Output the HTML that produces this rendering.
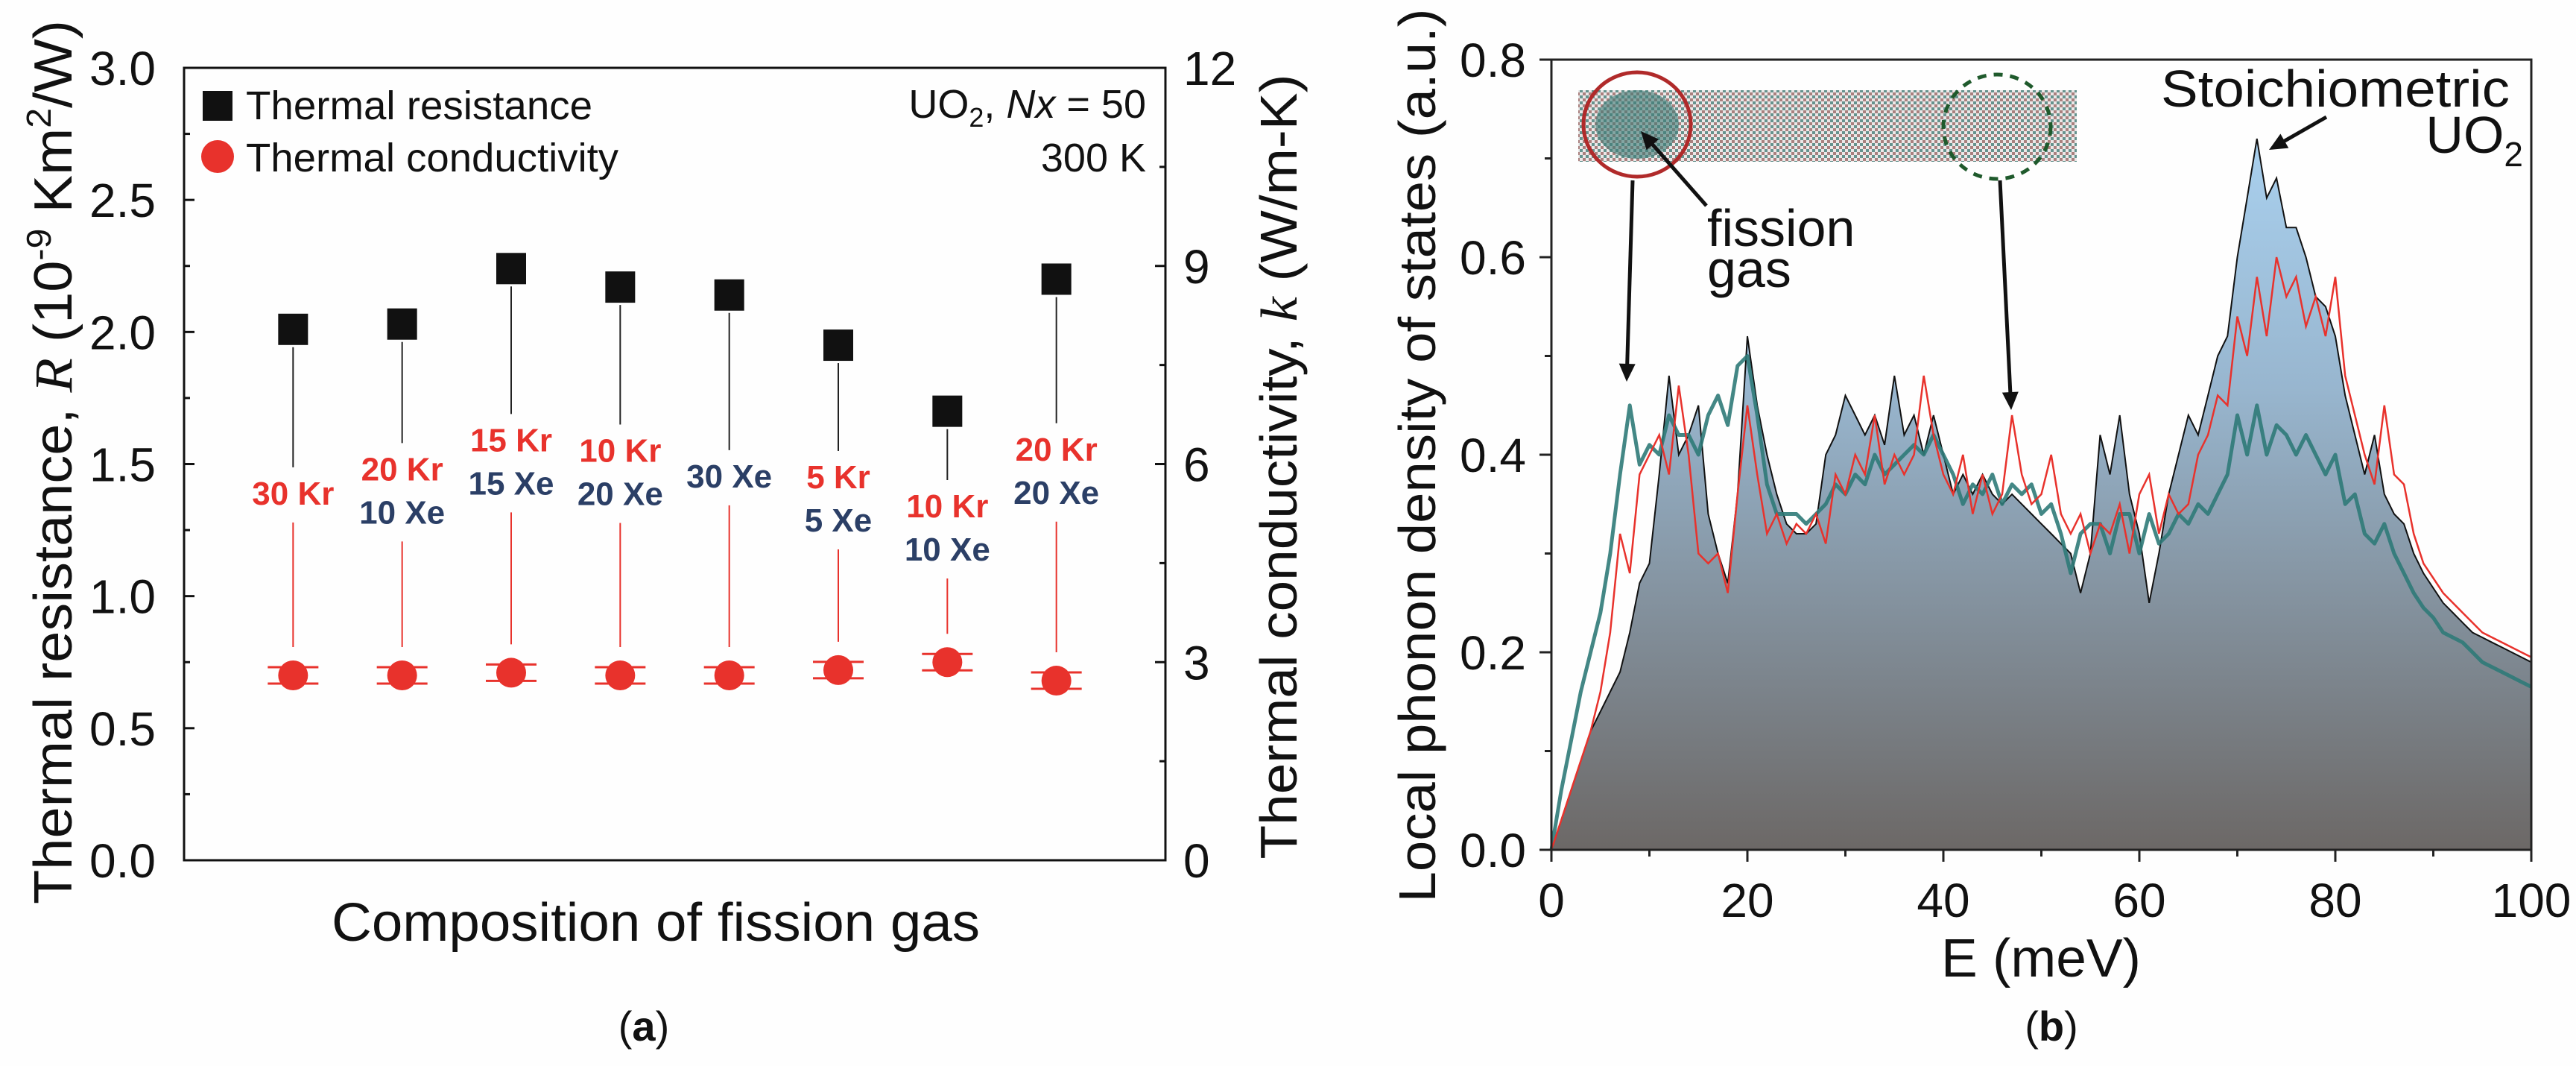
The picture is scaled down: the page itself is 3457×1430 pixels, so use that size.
<!DOCTYPE html>
<html><head><meta charset="utf-8">
<style>
html,body{margin:0;padding:0;background:#fff;}
svg{display:block;}
text{font-family:"Liberation Sans",Arial,sans-serif;}
</style></head>
<body>
<svg id="fig" width="3457" height="1430" viewBox="0 0 3457 1430" xmlns="http://www.w3.org/2000/svg">
<defs>
<linearGradient id="dosFill" gradientUnits="userSpaceOnUse" x1="0" y1="186" x2="0" y2="1140">
<stop offset="0" stop-color="#a9d0ee"/>
<stop offset="0.35" stop-color="#98b6cf"/>
<stop offset="1" stop-color="#6c6866"/>
</linearGradient>
<pattern id="atoms" width="8" height="8" patternUnits="userSpaceOnUse">
<rect width="8" height="8" fill="#e9e4e4"/>
<rect x="0" y="0" width="4" height="4" fill="#4a7f79"/>
<rect x="4" y="4" width="4" height="4" fill="#9a6a68"/>
</pattern>
</defs>
<rect width="3457" height="1430" fill="#fefefe"/>
<g id="panelA"></g>
<g id="panelB"></g>
</svg>
<script>
// ---------- Panel (a) data ----------
const compositions = ['c1','c2','c3','c4','c5','c6','c7','c8'];
const resistance = [2.01, 2.03, 2.24, 2.17, 2.14, 1.95, 1.70, 2.20];
const conductivity = [2.80, 2.80, 2.84, 2.80, 2.80, 2.88, 3.00, 2.72];
const krLabels = ['30 Kr','20 Kr','15 Kr','10 Kr','','5 Kr','10 Kr','20 Kr'];
const xeLabels = ['','10 Xe','15 Xe','20 Xe','30 Xe','5 Xe','10 Xe','20 Xe'];
const leftTicks = ['0.0','0.5','1.0','1.5','2.0','2.5','3.0'];
const rightTicks = ['0','3','6','9','12'];

// ---------- Panel (b) data ----------
const energy = [0,1,2,3,4,5,6,7,8,9,10,11,12,13,14,15,16,17,18,19,20,21,22,23,24,25,26,27,28,29,30,31,32,33,34,35,36,37,38,39,40,41,42,43,44,45,46,47,48,49,50,51,52,53,54,55,56,57,58,59,60,61,62,63,64,65,66,67,68,69,70,71,72,73,74,75,76,77,78,79,80,81,82,83,84,85,86,87,88,89,90,91,92,93,94,95,96,97,98,99,100];
const dosStoich = [0,0.03,0.06,0.09,0.12,0.14,0.16,0.18,0.22,0.27,0.29,0.38,0.48,0.40,0.42,0.45,0.34,0.30,0.27,0.36,0.52,0.45,0.40,0.36,0.33,0.32,0.32,0.33,0.40,0.42,0.46,0.44,0.42,0.44,0.41,0.48,0.42,0.44,0.40,0.44,0.40,0.36,0.38,0.36,0.38,0.36,0.35,0.36,0.35,0.34,0.33,0.32,0.31,0.30,0.26,0.30,0.42,0.38,0.44,0.36,0.32,0.25,0.30,0.36,0.40,0.44,0.42,0.46,0.50,0.52,0.60,0.66,0.72,0.66,0.68,0.63,0.63,0.60,0.56,0.55,0.52,0.46,0.42,0.38,0.42,0.36,0.34,0.33,0.30,0.28,0.265,0.25,0.24,0.23,0.22,0.215,0.21,0.205,0.20,0.195,0.19];
const dosRed = [0,0.03,0.06,0.09,0.12,0.16,0.22,0.32,0.28,0.38,0.40,0.42,0.38,0.47,0.40,0.30,0.29,0.30,0.26,0.36,0.45,0.38,0.32,0.34,0.31,0.33,0.32,0.34,0.31,0.38,0.36,0.40,0.38,0.44,0.37,0.40,0.38,0.40,0.48,0.42,0.38,0.36,0.40,0.34,0.38,0.34,0.36,0.44,0.38,0.35,0.36,0.40,0.34,0.32,0.34,0.30,0.33,0.32,0.35,0.30,0.36,0.38,0.32,0.36,0.34,0.35,0.40,0.42,0.46,0.45,0.54,0.50,0.58,0.52,0.60,0.56,0.58,0.53,0.56,0.52,0.58,0.48,0.44,0.40,0.37,0.45,0.38,0.37,0.32,0.29,0.275,0.26,0.25,0.24,0.23,0.22,0.215,0.21,0.205,0.20,0.195];
const dosTeal = [0,0.06,0.11,0.16,0.20,0.24,0.30,0.38,0.45,0.39,0.41,0.40,0.44,0.42,0.42,0.40,0.44,0.46,0.43,0.49,0.50,0.44,0.37,0.34,0.34,0.34,0.33,0.34,0.35,0.37,0.36,0.38,0.37,0.40,0.38,0.39,0.40,0.41,0.40,0.42,0.40,0.38,0.35,0.37,0.36,0.38,0.35,0.37,0.36,0.37,0.34,0.35,0.32,0.28,0.32,0.33,0.33,0.30,0.34,0.34,0.30,0.34,0.31,0.32,0.34,0.33,0.35,0.34,0.36,0.38,0.44,0.40,0.45,0.40,0.43,0.42,0.40,0.42,0.40,0.38,0.40,0.35,0.36,0.32,0.31,0.33,0.30,0.28,0.26,0.245,0.235,0.22,0.215,0.21,0.20,0.19,0.185,0.18,0.175,0.17,0.165];
const xTicksB = ['0','20','40','60','80','100'];
const yTicksB = ['0.0','0.2','0.4','0.6','0.8'];

const NS = 'http://www.w3.org/2000/svg';
function mk(parent, tag, attrs, txt){
  const e = document.createElementNS(NS, tag);
  for (const k in attrs) e.setAttribute(k, attrs[k]);
  if (txt !== undefined) e.textContent = txt;
  parent.appendChild(e);
  return e;
}

// ================= Panel A =================
const A = document.getElementById('panelA');
const AL = 247, AR = 1564, AT = 91, AB = 1154;
const xA = i => AL + (i + 1) * (AR - AL) / 9;
const yR = v => AB - v / 3 * (AB - AT);
const yK = v => AB - v / 12 * (AB - AT);

let e;
e = mk(A, 'rect', {x: AL, y: AT, width: AR - AL, height: AB - AT, fill: 'none', stroke: '#111', 'stroke-width': 3});



leftTicks.forEach((t, i) => {
  const v = parseFloat(t), y = yR(v);
  let tk = mk(A, 'line', {x1: AL, x2: AL + 14, y1: y, y2: y, stroke: '#111', 'stroke-width': 3});
  
  
  let lb = mk(A, 'text', {x: AL - 38, y: y + 23, 'font-size': 64, 'text-anchor': 'end', fill: '#111'}, t);
  
  
  if (i < leftTicks.length - 1) {
    const ym = yR(v + 0.25);
    let mt = mk(A, 'line', {x1: AL, x2: AL + 8, y1: ym, y2: ym, stroke: '#111', 'stroke-width': 3});
    
    
  }
});
rightTicks.forEach((t, i) => {
  const v = parseFloat(t), y = yK(v);
  let tk = mk(A, 'line', {x1: AR - 14, x2: AR, y1: y, y2: y, stroke: '#111', 'stroke-width': 3});
  
  
  let lb = mk(A, 'text', {x: AR + 24, y: y + 23, 'font-size': 64, fill: '#111'}, t);
  
  
  if (i < rightTicks.length - 1) {
    const ym = yK(v + 1.5);
    let mt = mk(A, 'line', {x1: AR - 8, x2: AR, y1: ym, y2: ym, stroke: '#111', 'stroke-width': 3});
    
    
  }
});

compositions.forEach((c, i) => {
  const x = xA(i), sy = yR(resistance[i]), cy = yK(conductivity[i]);
  const lines = [];
  if (krLabels[i]) lines.push({t: krLabels[i], c: '#e8322c', n: 'kr-label'});
  if (xeLabels[i]) lines.push({t: xeLabels[i], c: '#2b3f66', n: 'xe-label'});
  const mid = (sy + cy) / 2 - 12;
  const lh = 58;
  const top = mid - lines.length * lh / 2;
  const bot = mid + lines.length * lh / 2;
  let bl = mk(A, 'line', {x1: x, x2: x, y1: sy + 24, y2: top - 6, stroke: '#222', 'stroke-width': 2});
  
  
  let rl = mk(A, 'line', {x1: x, x2: x, y1: bot + 10, y2: cy - 38, stroke: '#e8322c', 'stroke-width': 2});
  
  
  lines.forEach((L, j) => {
    let t = mk(A, 'text', {x: x, y: top + j * lh + 44, 'font-size': 44, 'font-weight': 'bold', 'text-anchor': 'middle', fill: L.c}, L.t);
    
    
  });
  let sq = mk(A, 'rect', {x: x - 20, y: sy - 21, width: 40, height: 42, fill: '#111'});
  
  
  [-11, 11].forEach(d => {
    let cap = mk(A, 'line', {x1: x - 34, x2: x + 34, y1: cy + d, y2: cy + d, stroke: '#e8322c', 'stroke-width': 3});
    
    
  });
  let ci = mk(A, 'circle', {cx: x, cy: cy, r: 20, fill: '#e8322c'});
  
  
});
</script>
<script>
// static annotations panel A
(function(){
const A = document.getElementById('panelA');
function mk(parent, tag, attrs, txt){
  const e = document.createElementNS('http://www.w3.org/2000/svg', tag);
  for (const k in attrs) e.setAttribute(k, attrs[k]);
  if (txt !== undefined) e.textContent = txt;
  parent.appendChild(e);
  return e;
}
let e;
e = mk(A, 'rect', {x: 272, y: 122, width: 40, height: 40, fill: '#111'});


e = mk(A, 'text', {x: 330, y: 160, 'font-size': 54, fill: '#111', textLength: 465, lengthAdjust: 'spacingAndGlyphs'}, 'Thermal resistance');


e = mk(A, 'circle', {cx: 292, cy: 210, r: 22, fill: '#e8322c'});


e = mk(A, 'text', {x: 330, y: 230, 'font-size': 54, fill: '#111', textLength: 500, lengthAdjust: 'spacingAndGlyphs'}, 'Thermal conductivity');


e = mk(A, 'text', {x: 1538, y: 158, 'font-size': 54, fill: '#111', 'text-anchor': 'end'});
e.innerHTML = 'UO<tspan font-size="36" dy="12">2</tspan><tspan dy="-12">, </tspan><tspan font-style="italic">Nx</tspan> = 50';


e = mk(A, 'text', {x: 1538, y: 230, 'font-size': 54, fill: '#111', 'text-anchor': 'end'}, '300 K');


e = mk(A, 'text', {x: 0, y: 0, 'font-size': 72, fill: '#111', 'text-anchor': 'middle', transform: 'translate(96,620) rotate(-90)', textLength: 1186, lengthAdjust: 'spacingAndGlyphs'});
e.innerHTML = 'Thermal resistance, <tspan font-family="Liberation Serif" font-style="italic">R</tspan> (10<tspan font-size="46" dy="-28">-9</tspan><tspan dy="28"> Km</tspan><tspan font-size="46" dy="-28">2</tspan><tspan dy="28">/W)</tspan>';


e = mk(A, 'text', {x: 0, y: 0, 'font-size': 70, fill: '#111', 'text-anchor': 'middle', transform: 'translate(1740,626) rotate(-90)', textLength: 1053, lengthAdjust: 'spacingAndGlyphs'});
e.innerHTML = 'Thermal conductivity, <tspan font-family="Liberation Serif" font-style="italic">k</tspan> (W/m-K)';


e = mk(A, 'text', {x: 880, y: 1262, 'font-size': 72, fill: '#111', 'text-anchor': 'middle', textLength: 870, lengthAdjust: 'spacingAndGlyphs'}, 'Composition of fission gas');


e = mk(A, 'text', {x: 864, y: 1396, 'font-size': 56, fill: '#111', 'text-anchor': 'middle', 'font-family': 'Liberation Serif'});
e.innerHTML = '(<tspan font-weight="bold">a</tspan>)';


})();
</script>
<script>
// ================= Panel B =================
(function(){
const B = document.getElementById('panelB');
function mk(parent, tag, attrs, txt){
  const e = document.createElementNS('http://www.w3.org/2000/svg', tag);
  for (const k in attrs) e.setAttribute(k, attrs[k]);
  if (txt !== undefined) e.textContent = txt;
  parent.appendChild(e);
  return e;
}
const BL = 2082, BR = 3397, BT = 80, BB = 1140;
const xE = v => BL + v / 100 * (BR - BL);
const yD = v => BB - v / 0.8 * (BB - BT);
const pts = arr => energy.map((x, i) => xE(x).toFixed(1) + ',' + yD(arr[i]).toFixed(1)).join(' ');
let e;
e = mk(B, 'polygon', {points: pts(dosStoich) + ' ' + xE(100) + ',' + BB + ' ' + BL + ',' + BB, fill: 'url(#dosFill)'});


e = mk(B, 'polyline', {points: pts(dosStoich), fill: 'none', stroke: '#111', 'stroke-width': 2});


e = mk(B, 'polyline', {points: pts(dosTeal), fill: 'none', stroke: '#2f7a78', 'stroke-width': 5, 'stroke-linejoin': 'round', opacity: 0.9});


e = mk(B, 'polyline', {points: pts(dosRed), fill: 'none', stroke: '#e8322c', 'stroke-width': 2.5});


e = mk(B, 'rect', {x: BL, y: BT, width: BR - BL, height: BB - BT, fill: 'none', stroke: '#222', 'stroke-width': 3});


xTicksB.forEach((t, i) => {
  const v = parseFloat(t), x = xE(v);
  let tk = mk(B, 'line', {x1: x, x2: x, y1: BB, y2: BB + 16, stroke: '#222', 'stroke-width': 3});
  
  
  let lb = mk(B, 'text', {x: x, y: BB + 90, 'font-size': 64, 'text-anchor': 'middle', fill: '#111'}, t);
  
  
  if (i < xTicksB.length - 1) {
    const xm = xE(v + 10);
    let mt = mk(B, 'line', {x1: xm, x2: xm, y1: BB, y2: BB + 9, stroke: '#222', 'stroke-width': 3});
    
    
  }
});
yTicksB.forEach((t, i) => {
  const v = parseFloat(t), y = yD(v);
  let tk = mk(B, 'line', {x1: BL - 16, x2: BL, y1: y, y2: y, stroke: '#222', 'stroke-width': 3});
  
  
  let lb = mk(B, 'text', {x: BL - 34, y: y + 23, 'font-size': 64, 'text-anchor': 'end', fill: '#111'}, t);
  
  
  if (i < yTicksB.length - 1) {
    const ym = yD(v + 0.1);
    let mt = mk(B, 'line', {x1: BL - 9, x2: BL, y1: ym, y2: ym, stroke: '#222', 'stroke-width': 3});
    
    
  }
});
// inset
e = mk(B, 'rect', {x: 2118, y: 121, width: 669, height: 96, fill: 'url(#atoms)', opacity: 0.85});


e = mk(B, 'ellipse', {cx: 2197, cy: 167, rx: 56, ry: 46, fill: '#3e7a74', opacity: 0.6});


e = mk(B, 'ellipse', {cx: 2197, cy: 167, rx: 72, ry: 70, fill: 'none', stroke: '#b02a2a', 'stroke-width': 5});


e = mk(B, 'ellipse', {cx: 2680, cy: 170, rx: 72, ry: 70, fill: 'none', stroke: '#1f5a2c', 'stroke-width': 5, 'stroke-dasharray': '12 10'});


const arrows = [[2191,242,2183,512],[2684,242,2699,550],[2290,276,2202,176],[3122,157,3045,201]];
arrows.forEach(a => {
  const dx = a[2]-a[0], dy = a[3]-a[1], L = Math.hypot(dx, dy), ux = dx/L, uy = dy/L;
  let ln = mk(B, 'line', {x1: a[0], y1: a[1], x2: a[2]-ux*14, y2: a[3]-uy*14, stroke: '#111', 'stroke-width': 5});
  
  
  const bx = a[2]-ux*24, by = a[3]-uy*24;
  let hd = mk(B, 'polygon', {points: a[2]+','+a[3]+' '+(bx-uy*11)+','+(by+ux*11)+' '+(bx+uy*11)+','+(by-ux*11), fill: '#111'});
  
  
});
e = mk(B, 'text', {x: 2291, y: 330, 'font-size': 70, fill: '#111'}, 'fission');


e = mk(B, 'text', {x: 2291, y: 385, 'font-size': 70, fill: '#111'}, 'gas');


e = mk(B, 'text', {x: 3368, y: 143, 'font-size': 70, fill: '#111', 'text-anchor': 'end', textLength: 468, lengthAdjust: 'spacingAndGlyphs'}, 'Stoichiometric');


e = mk(B, 'text', {x: 3386, y: 205, 'font-size': 70, fill: '#111', 'text-anchor': 'end'});
e.innerHTML = 'UO<tspan font-size="46" dy="18">2</tspan>';


e = mk(B, 'text', {x: 0, y: 0, 'font-size': 70, fill: '#111', 'text-anchor': 'middle', transform: 'translate(1926,611) rotate(-90)', textLength: 1199, lengthAdjust: 'spacingAndGlyphs'}, 'Local phonon density of states (a.u.)');


e = mk(B, 'text', {x: 2739, y: 1310, 'font-size': 72, fill: '#111', 'text-anchor': 'middle', textLength: 268, lengthAdjust: 'spacingAndGlyphs'}, 'E (meV)');


e = mk(B, 'text', {x: 2753, y: 1396, 'font-size': 56, fill: '#111', 'text-anchor': 'middle', 'font-family': 'Liberation Serif'});
e.innerHTML = '(<tspan font-weight="bold">b</tspan>)';


})();
</script>
</body></html>
